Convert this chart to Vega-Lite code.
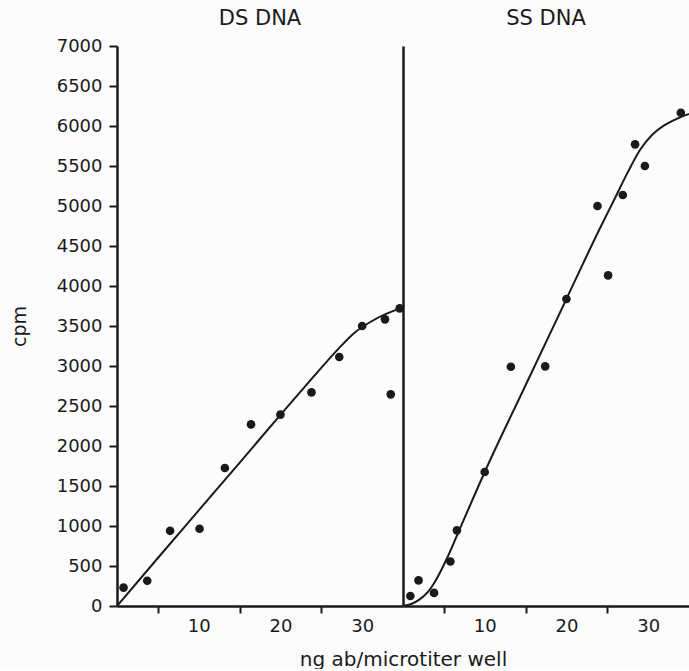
{
  "$schema": "https://vega.github.io/schema/vega-lite/v6.json",
  "background": "#fcfcfc",
  "padding": {"left": 10, "top": 8, "right": 0, "bottom": 0},
  "datasets": {
    "ds_points": [
      {"x": 0.8, "cpm": 230}, {"x": 3.7, "cpm": 316}, {"x": 6.5, "cpm": 940}, {"x": 10.1, "cpm": 966},
      {"x": 13.2, "cpm": 1725}, {"x": 16.4, "cpm": 2270}, {"x": 20.0, "cpm": 2392}, {"x": 23.8, "cpm": 2671},
      {"x": 27.2, "cpm": 3112}, {"x": 30.0, "cpm": 3500}, {"x": 32.8, "cpm": 3583}, {"x": 33.5, "cpm": 2646},
      {"x": 34.6, "cpm": 3721}
    ],
    "ds_curve": [
      {"x": 0, "cpm": 0}, {"x": 5, "cpm": 600}, {"x": 10, "cpm": 1195}, {"x": 15, "cpm": 1790},
      {"x": 20, "cpm": 2390}, {"x": 24, "cpm": 2860}, {"x": 27, "cpm": 3205}, {"x": 29, "cpm": 3410},
      {"x": 31, "cpm": 3550}, {"x": 33, "cpm": 3655}, {"x": 35, "cpm": 3730}
    ],
    "ss_points": [
      {"x": 0.9, "cpm": 125}, {"x": 1.9, "cpm": 320}, {"x": 3.8, "cpm": 164}, {"x": 5.8, "cpm": 556},
      {"x": 6.6, "cpm": 946}, {"x": 10.0, "cpm": 1675}, {"x": 13.2, "cpm": 2991}, {"x": 17.4, "cpm": 2996},
      {"x": 20.0, "cpm": 3838}, {"x": 23.8, "cpm": 5000}, {"x": 25.1, "cpm": 4133}, {"x": 26.9, "cpm": 5138},
      {"x": 28.4, "cpm": 5771}, {"x": 29.6, "cpm": 5500}, {"x": 34.0, "cpm": 6166}
    ],
    "ss_curve": [
      {"x": 0, "cpm": 0}, {"x": 1, "cpm": 25}, {"x": 2, "cpm": 80}, {"x": 3, "cpm": 170}, {"x": 4, "cpm": 320},
      {"x": 5.4, "cpm": 600}, {"x": 6.6, "cpm": 880}, {"x": 10, "cpm": 1675}, {"x": 15, "cpm": 2760},
      {"x": 20, "cpm": 3838}, {"x": 24, "cpm": 4700}, {"x": 26, "cpm": 5110}, {"x": 27.5, "cpm": 5420},
      {"x": 29, "cpm": 5700}, {"x": 30.5, "cpm": 5890}, {"x": 32, "cpm": 6010}, {"x": 33.5, "cpm": 6090},
      {"x": 35, "cpm": 6150}
    ]
  },
  "spacing": 0,
  "bounds": "flush",
  "hconcat": [
    {
      "width": 286,
      "height": 560,
      "title": {"text": "DS DNA", "fontSize": 21, "font": "DejaVu Sans", "fontWeight": "normal", "offset": 8, "color": "#1a1a1a"},
      "encoding": {
        "x": {
          "field": "x", "type": "quantitative",
          "scale": {"domain": [0, 35], "nice": false, "zero": false},
          "axis": {
            "values": [5, 10, 15, 20, 25, 30],
            "labelExpr": "datum.value % 10 == 0 ? datum.label : ''",
            "tickOpacity": {"condition": {"test": "datum.value % 10 == 0", "value": 0}, "value": 1},
            "tickSize": 7, "labelPadding": 4, "labelFontSize": 18,
            "labelOverlap": false, "labelFlush": false,
            "title": "ng ab/microtiter well",
            "titleX": 286, "titleY": 59, "titleAlign": "center", "titleBaseline": "alphabetic",
            "titleFontSize": 20
          }
        },
        "y": {
          "field": "cpm", "type": "quantitative",
          "scale": {"domain": [0, 7000], "nice": false},
          "axis": {
            "values": [0, 500, 1000, 1500, 2000, 2500, 3000, 3500, 4000, 4500, 5000, 5500, 6000, 6500, 7000],
            "format": "d",
            "tickSize": 8, "labelPadding": 7, "labelFontSize": 18,
            "labelOverlap": false, "labelFlush": false,
            "title": "cpm", "titleFontSize": 19,
            "titleX": -98, "titleY": 280, "titleAngle": -90,
            "titleAlign": "center", "titleBaseline": "middle"
          }
        }
      },
      "layer": [
        {"data": {"name": "ds_curve"}, "mark": {"type": "line", "interpolate": "monotone", "color": "#1a1a1a", "strokeWidth": 2}},
        {"data": {"name": "ds_points"}, "mark": {"type": "circle", "size": 75, "opacity": 1, "color": "#1a1a1a"}}
      ]
    },
    {
      "width": 286,
      "height": 560,
      "title": {"text": "SS DNA", "fontSize": 21, "font": "DejaVu Sans", "fontWeight": "normal", "offset": 17, "color": "#1a1a1a"},
      "encoding": {
        "x": {
          "field": "x", "type": "quantitative",
          "scale": {"domain": [0, 35], "nice": false, "zero": false},
          "axis": {
            "values": [5, 10, 15, 20, 25, 30],
            "labelExpr": "datum.value % 10 == 0 ? datum.label : ''",
            "tickOpacity": {"condition": {"test": "datum.value % 10 == 0", "value": 0}, "value": 1},
            "tickSize": 7, "labelPadding": 4, "labelFontSize": 18,
            "labelOverlap": false, "labelFlush": false,
            "title": null
          }
        },
        "y": {
          "field": "cpm", "type": "quantitative",
          "scale": {"domain": [0, 7000], "nice": false},
          "axis": {"ticks": false, "labels": false, "title": null}
        }
      },
      "layer": [
        {"data": {"name": "ss_curve"}, "mark": {"type": "line", "interpolate": "monotone", "color": "#1a1a1a", "strokeWidth": 2}},
        {"data": {"name": "ss_points"}, "mark": {"type": "circle", "size": 75, "opacity": 1, "color": "#1a1a1a"}}
      ]
    }
  ],
  "config": {
    "view": {"stroke": null},
    "axis": {
      "grid": false,
      "domainColor": "#1a1a1a", "domainWidth": 2.5,
      "tickColor": "#1a1a1a", "tickWidth": 2,
      "labelColor": "#1a1a1a", "titleColor": "#1a1a1a",
      "labelFont": "DejaVu Sans", "titleFont": "DejaVu Sans", "titleFontWeight": "normal"
    }
  }
}
